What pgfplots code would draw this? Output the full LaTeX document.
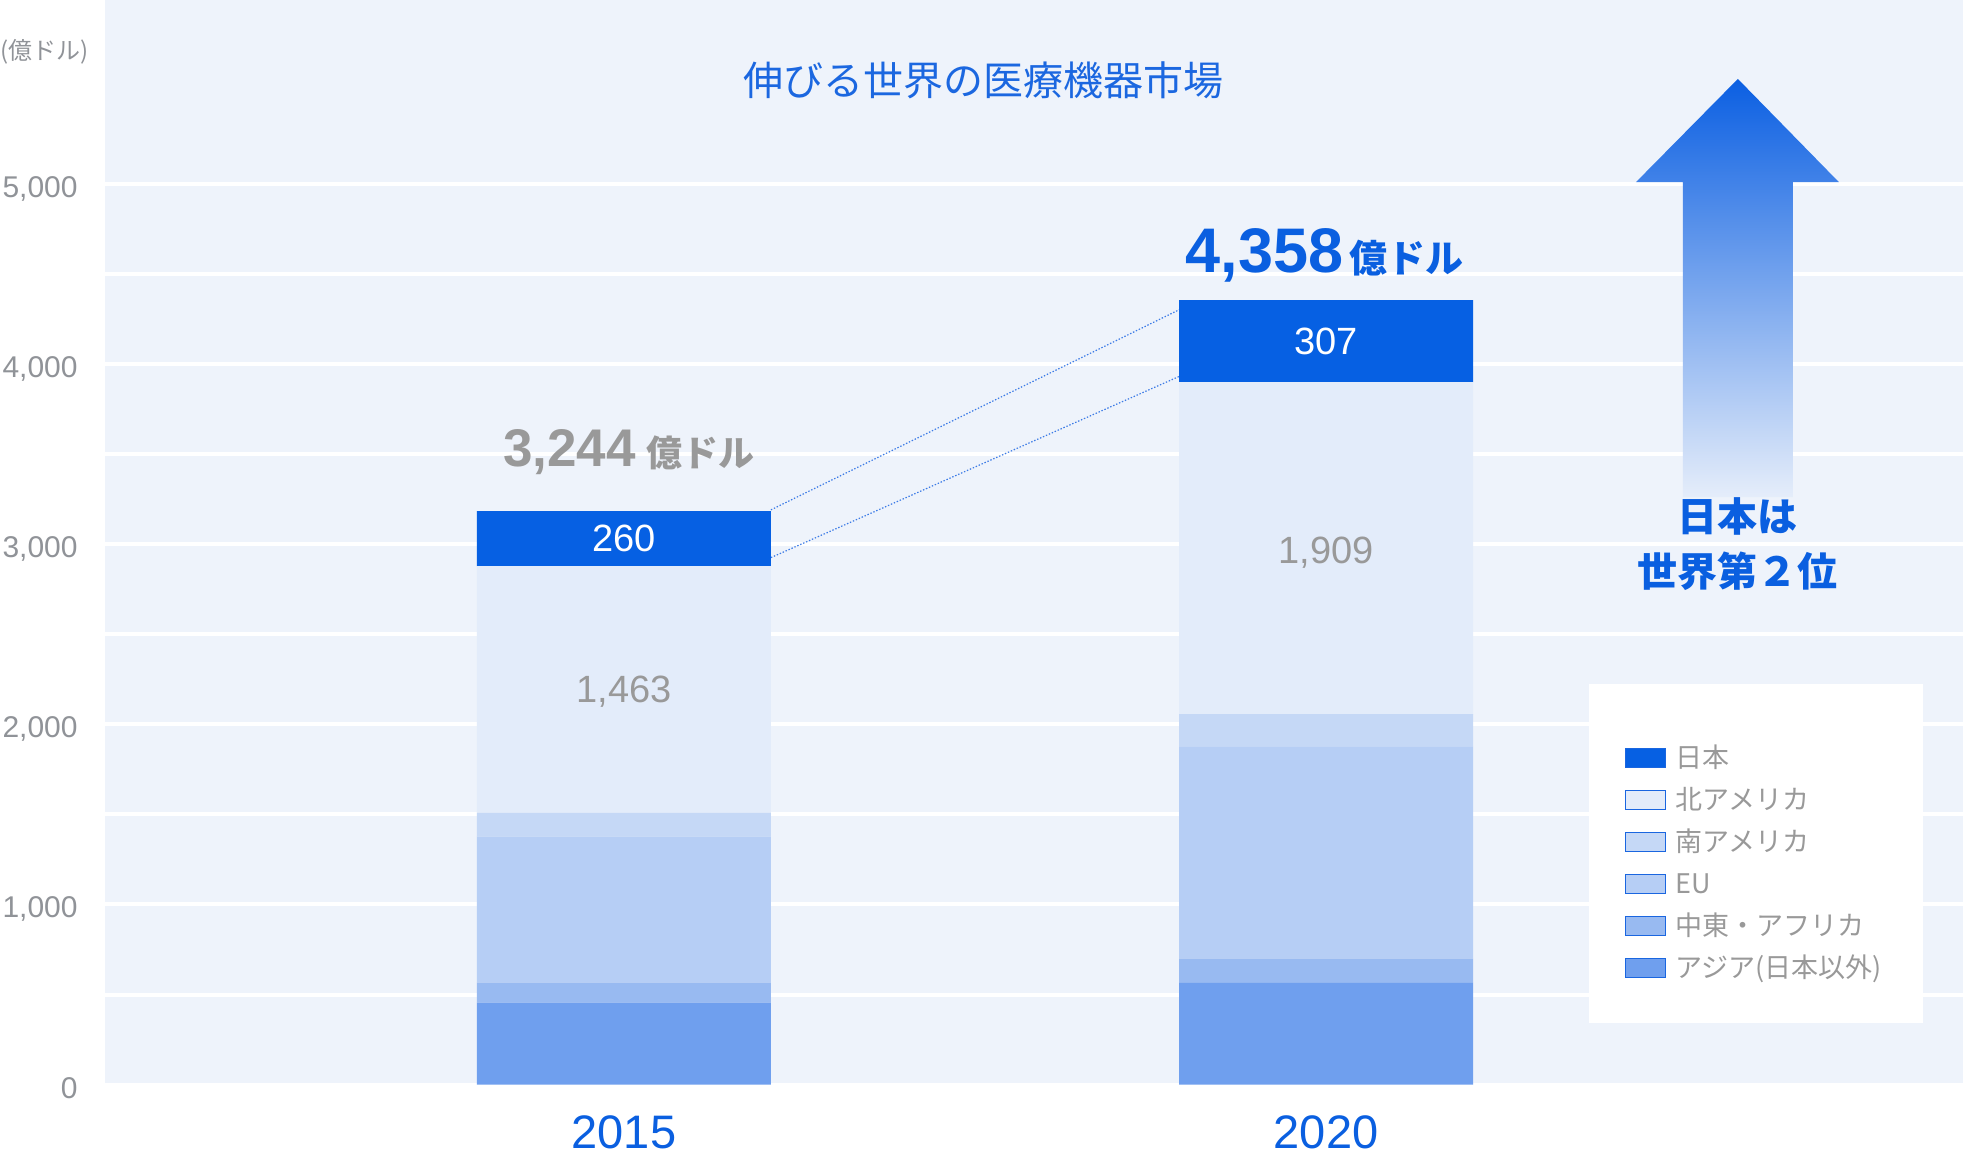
\documentclass[border=0pt]{standalone}
\usepackage{fontspec}
\setmainfont{Liberation Sans}
\newfontfamily\cjk{Noto Sans CJK JP}
\usepackage{pgfplots}
\usepackage{pgfplotstable}
\pgfplotsset{compat=1.18}

\definecolor{bgblue}{HTML}{EEF3FB}
\definecolor{cjp}{HTML}{0660E3}
\definecolor{cna}{HTML}{E3ECFA}
\definecolor{csa}{HTML}{C5D8F6}
\definecolor{ceu}{HTML}{B6CEF5}
\definecolor{cme}{HTML}{98BAF1}
\definecolor{cas}{HTML}{6F9FEE}
\definecolor{textblue}{HTML}{0A5FE0}
\definecolor{titleblue}{HTML}{1B67E0}
\definecolor{tickgray}{HTML}{909398}
\definecolor{labgray}{HTML}{999999}
\definecolor{lgborder}{HTML}{1A66E0}
\definecolor{dotblue}{HTML}{3C7BE6}
\definecolor{arrowtop}{HTML}{0B5FE2}
\definecolor{arrowbot}{HTML}{E5EDFA}

\pgfplotsset{
  segleg/.style={legend image code/.code={%
    \draw[##1,draw=lgborder,line width=0.5pt] (0pt,-4.75pt) rectangle (20pt,4.75pt);}},
}
\tikzset{vallabel/.style={inner sep=0pt, text depth=0pt, font=\fontsize{19}{22}\selectfont}}

% market size by region (100 million USD)
\pgfplotstableread{
year asia me eu sa na jp
1 456 110 811 131 1369 306
2 565 134 1179 179 1842 455
}\market

\begin{document}
\begin{tikzpicture}
\begin{axis}[
  name=ax,
  scale only axis,
  width=929pt, height=542.35pt,
  xmin=0.2610, xmax=2.9070,
  ymin=0, ymax=6019,
  enlargelimits=false,
  ybar stacked,
  bar width=147pt,
  clip=false,
  axis background/.style={fill=bgblue},
  axis line style={draw=none},
  major tick style={draw=none},
  minor tick style={draw=none},
  ytick={0,1000,2000,3000,4000,5000},
  yticklabels={0,{1,000},{2,000},{3,000},{4,000},{5,000}},
  minor ytick={500,1500,2500,3500,4500},
  ymajorgrids, yminorgrids,
  major grid style={white, line width=2pt},
  minor grid style={white, line width=2pt},
  yticklabel style={font=\fontsize{15}{17}\selectfont, text=tickgray,
    anchor=east, inner sep=0pt, text height=10.5pt, text depth=0pt,
    xshift=-13.5pt, yshift=-1.5pt},
  xtick={1,2},
  xticklabels={2015,2020},
  xticklabel style={font=\fontsize{23.5}{28}\selectfont, text=textblue,
    anchor=base, inner sep=0pt, yshift=-31.65pt},
  reverse legend,
  legend cell align=left,
  legend style={at={(axis cs:2.4255,1885)}, anchor=north west,
    draw=none, fill=none, inner sep=0pt, outer sep=0pt,
    row sep=8pt, column sep=5pt,
    font=\cjk\fontsize{13.5}{16}\selectfont, text=labgray,
    nodes={text height=11.5pt, text depth=1.5pt, inner sep=0pt, anchor=west}},
]
\addplot[fill=cas, draw=none, segleg] table[x=year, y=asia] {\market};
\addplot[fill=cme, draw=none, segleg] table[x=year, y=me] {\market};
\addplot[fill=ceu, draw=none, segleg] table[x=year, y=eu] {\market};
\addplot[fill=csa, draw=none, segleg] table[x=year, y=sa] {\market};
\addplot[fill=cna, draw=none, segleg] table[x=year, y=na] {\market};
\addplot[fill=cjp, draw=none, segleg] table[x=year, y=jp] {\market};
\legend{アジア(日本以外), 中東・アフリカ, EU, 南アメリカ, 北アメリカ, 日本}

% title and unit
\node[font=\cjk\fontsize{20}{24}\selectfont, text=titleblue] at (axis cs:1.512,5575) {伸びる世界の医療機器市場};
\node[anchor=west, inner sep=0pt, font=\cjk\fontsize{12}{14}\selectfont, text=tickgray] at (axis cs:0.1114,5730) {(億ドル)};

% totals
\node[anchor=base, inner sep=0pt, text=labgray] at (axis cs:1.007,3433)
  {\fontsize{26.5}{30}\selectfont\bfseries 3,244\hspace{5.5pt}\cjk\bfseries\fontsize{18}{20}\selectfont 億ドル};
\node[anchor=base, inner sep=0pt, text=textblue] at (axis cs:1.998,4506)
  {\fontsize{31.5}{36}\selectfont\bfseries 4,358\hspace{3pt}\cjk\bfseries\fontsize{19}{22}\selectfont 億ドル};

% where the segment values go (drawn after the axis, over the bars)
\coordinate (v1jp) at (axis cs:1,3030);
\coordinate (v1na) at (axis cs:1,2192);
\coordinate (v2jp) at (axis cs:2,4126);
\coordinate (v2na) at (axis cs:2,2967);

% connectors between the Japan segments
\draw[dotblue, line width=0.6pt, dash pattern=on 0.7pt off 0.9pt] (axis cs:1.2094,3190) -- (axis cs:1.7906,4300);
\draw[dotblue, line width=0.6pt, dash pattern=on 0.7pt off 0.9pt] (axis cs:1.2094,2925) -- (axis cs:1.7906,3930);

% arrow
\shade[top color=arrowtop, bottom color=arrowbot]
  (axis cs:2.5864,5581) -- (axis cs:2.7303,5008) -- (axis cs:2.6648,5008)
  -- (axis cs:2.6648,3261) -- (axis cs:2.5081,3261) -- (axis cs:2.5081,5008)
  -- (axis cs:2.4412,5008) -- cycle;
\node[font=\cjk\bfseries\fontsize{20}{24}\selectfont, text=textblue] at (axis cs:2.5864,3156) {日本は};
\node[font=\cjk\bfseries\fontsize{20}{24}\selectfont, text=textblue] at (axis cs:2.5864,2851) {世界第２位};

% legend panel
\fill[white] (axis cs:2.3742,342) rectangle (axis cs:2.8499,2224);
\end{axis}
\node[vallabel, text=white] at (v1jp) {260};
\node[vallabel, text=labgray] at (v1na) {1,463};
\node[vallabel, text=white] at (v2jp) {307};
\node[vallabel, text=labgray] at (v2na) {1,909};
\pgfresetboundingbox
\path (ax.south west) ++(-52.5pt,-36.65pt) rectangle (ax.north east);
\end{tikzpicture}
\end{document}
